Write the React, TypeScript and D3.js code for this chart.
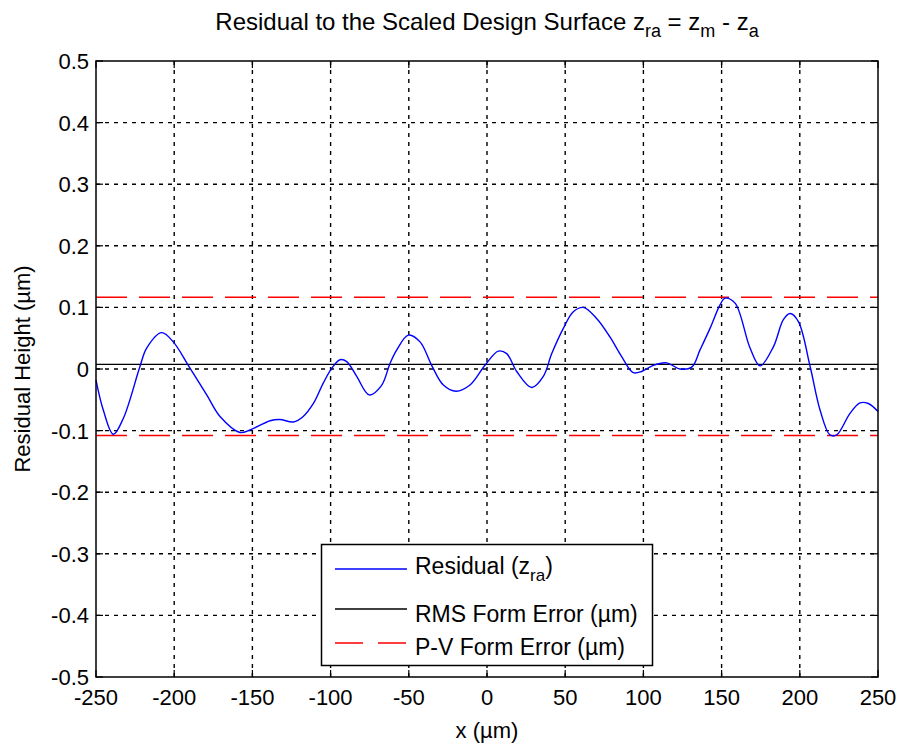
import React from "react";
import * as d3 from "d3";

const xData = [-250, -245.3, -238.9, -232.5, -221.9, -217.6, -208, -200.6, -191, -179.2, -170.7, -157.9, -151.5, -138.7, -132.4, -123.8, -117.5, -111, -104.7, -99.3, -94, -89.7, -83.3, -75.3, -67.5, -62, -57.7, -50.3, -42.8, -35.4, -27.9, -19.8, -10.9, -1.3, 7.2, 12.6, 19, 28.6, 36, 41.4, 48.8, 55.2, 61.6, 70.1, 78.6, 86.1, 93.5, 98.9, 106.3, 114.9, 123.4, 130.9, 136.2, 142.6, 149, 152.2, 158.6, 168.2, 174.6, 183.1, 189.5, 193.8, 199.1, 206.6, 213, 219.3, 223.6, 232.1, 238.5, 243.8, 250];
const residual = [-0.018, -0.067, -0.106, -0.08, 0.004, 0.034, 0.059, 0.044, 0.006, -0.042, -0.077, -0.103, -0.099, -0.084, -0.082, -0.086, -0.077, -0.056, -0.023, 0.001, 0.015, 0.012, -0.012, -0.042, -0.027, 0.009, 0.031, 0.055, 0.044, 0.006, -0.026, -0.036, -0.026, 0.006, 0.029, 0.025, -0.004, -0.03, -0.012, 0.025, 0.066, 0.093, 0.1, 0.082, 0.052, 0.02, -0.006, -0.004, 0.006, 0.01, 0, 0.003, 0.031, 0.066, 0.104, 0.115, 0.107, 0.034, 0.005, 0.036, 0.08, 0.09, 0.077, 0.004, -0.067, -0.107, -0.107, -0.072, -0.055, -0.056, -0.069];
const rmsError = [0.0075];
const pvError = [0.1165, -0.108];
const xTicks = [-250, -200, -150, -100, -50, 0, 50, 100, 150, 200, 250];
const yTicks = [-0.5, -0.4, -0.3, -0.2, -0.1, 0, 0.1, 0.2, 0.3, 0.4, 0.5];

const W = 899, H = 744;
const L = 96, R = 878, T = 61, B = 677;
const FONT = "'Liberation Sans', Arial, sans-serif";

export default function App() {
  const x = d3.scaleLinear().domain([-250, 250]).range([L, R]);
  const y = d3.scaleLinear().domain([-0.5, 0.5]).range([B, T]);
  const pts: [number, number][] = xData.map((v, i) => [v, residual[i]]);
  const line = d3.line<[number, number]>().x(d => x(d[0])).y(d => y(d[1])).curve(d3.curveCatmullRom.alpha(0.5));
  const tickLen = 7;
  const fmtY = (v: number) => (v === 0 ? "0" : d3.format(".1f")(v).replace("−", "-"));
  return (
    <svg width={W} height={H} style={{ position: "absolute", left: 0, top: 0, background: "#fff" }} fontFamily={FONT}>
      <rect x={0} y={0} width={W} height={H} fill="#fff" />
      {xTicks.slice(1, -1).map(t => (
        <line key={"gx" + t} x1={x(t)} x2={x(t)} y1={T} y2={B} stroke="#000" strokeWidth={1.4} strokeDasharray="4,5" />
      ))}
      {yTicks.slice(1, -1).map(t => (
        <line key={"gy" + t} x1={L} x2={R} y1={y(t)} y2={y(t)} stroke="#000" strokeWidth={1.4} strokeDasharray="4,5" />
      ))}
      {xTicks.map(t => (
        <g key={"tx" + t}>
          <line x1={x(t)} x2={x(t)} y1={B} y2={B - tickLen} stroke="#000" strokeWidth={1.2} />
          <line x1={x(t)} x2={x(t)} y1={T} y2={T + tickLen} stroke="#000" strokeWidth={1.2} />
          <text x={x(t)} y={705} fontSize={22} textAnchor="middle" fill="#000">{String(t)}</text>
        </g>
      ))}
      {yTicks.map(t => (
        <g key={"ty" + t}>
          <line x1={L} x2={L + tickLen} y1={y(t)} y2={y(t)} stroke="#000" strokeWidth={1.2} />
          <line x1={R} x2={R - tickLen} y1={y(t)} y2={y(t)} stroke="#000" strokeWidth={1.2} />
          <text x={89} y={y(t)} dy="0.36em" fontSize={22} textAnchor="end" fill="#000">{fmtY(t)}</text>
        </g>
      ))}
      {pvError.map((v, i) => (
        <line key={"pv" + i} x1={L} x2={R} y1={y(v)} y2={y(v)} stroke="#ff0000" strokeWidth={1.4} strokeDasharray="31,12" />
      ))}
      {rmsError.map((v, i) => (
        <line key={"rms" + i} x1={L} x2={R} y1={y(v)} y2={y(v)} stroke="#000" strokeWidth={1.4} />
      ))}
      <path d={line(pts) || ""} fill="none" stroke="#0000ff" strokeWidth={1.4} />
      <rect x={L} y={T} width={R - L} height={B - T} fill="none" stroke="#000" strokeWidth={1.5} />
      <rect x={321.5} y={544.5} width={331} height={121} fill="#fff" stroke="#000" strokeWidth={1.5} />
      <line x1={335} x2={407} y1={569} y2={569} stroke="#0000ff" strokeWidth={1.4} />
      <text x={415} y={574} fontSize={23} fill="#000">Residual (z<tspan fontSize={17} dy={7}>ra</tspan><tspan dy={-7}>)</tspan></text>
      <line x1={335} x2={407} y1={609} y2={609} stroke="#000" strokeWidth={1.4} />
      <text x={415} y={622} fontSize={23} fill="#000">RMS Form Error (µm)</text>
      <line x1={335} x2={407} y1={643} y2={643} stroke="#ff0000" strokeWidth={1.4} strokeDasharray="28,15" />
      <text x={415} y={655} fontSize={23} fill="#000">P-V Form Error (µm)</text>
      <text x={(L + R) / 2} y={30} fontSize={24} textAnchor="middle" fill="#000">
        Residual to the Scaled Design Surface z<tspan fontSize={18} dy={7}>ra</tspan><tspan dy={-7}> = z</tspan><tspan fontSize={18} dy={7}>m</tspan><tspan dy={-7}> - z</tspan><tspan fontSize={18} dy={7}>a</tspan>
      </text>
      <text x={(L + R) / 2} y={738} fontSize={22} textAnchor="middle" fill="#000">x (µm)</text>
      <text transform={`translate(30,${(T + B) / 2}) rotate(-90)`} fontSize={22} textAnchor="middle" fill="#000">Residual Height (µm)</text>
    </svg>
  );
}
